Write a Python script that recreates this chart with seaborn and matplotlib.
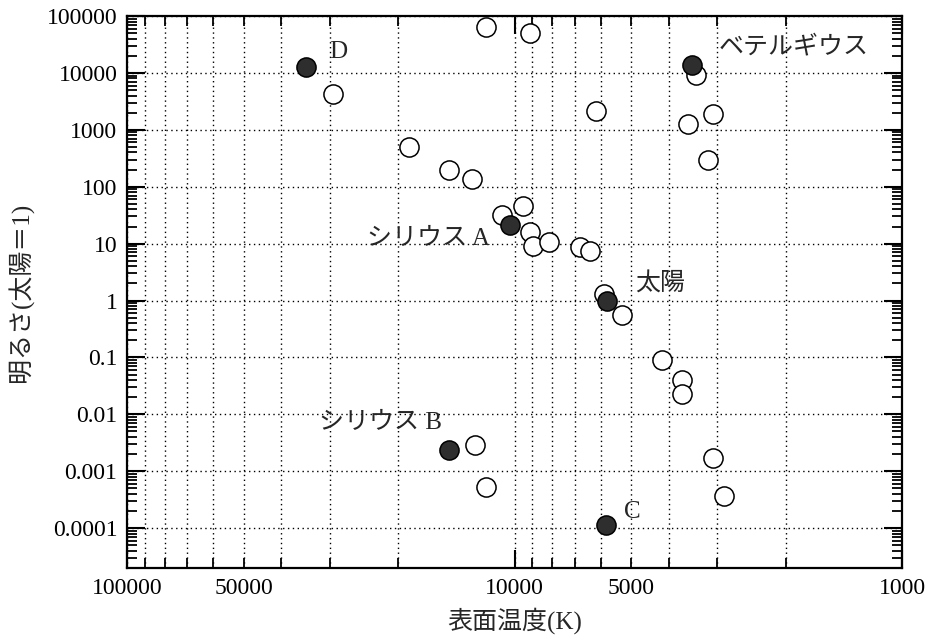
import matplotlib
matplotlib.use("Agg")
import matplotlib.pyplot as plt
from matplotlib.ticker import LogLocator, FixedLocator, FuncFormatter, NullFormatter
import seaborn as sns
import pandas as pd
import numpy as np

# open circles: surface temperature (K) and luminosity (Sun = 1)
open_temp = [11850, 29400, 18700, 14760, 12880, 9120, 3400, 6170, 3570, 3080,
             3170, 9510, 10770, 9120, 8960, 8150, 6780, 6380, 5880, 5280,
             4160, 3700, 3700, 12650, 11850, 3080, 2880]
open_lum = [64300, 4320, 492, 195, 136, 50400, 9300, 2180, 1290, 1860,
            292, 45.8, 31.9, 16.1, 9.17, 10.7, 8.8, 7.5, 1.32, 0.547,
            0.0893, 0.0399, 0.0228, 0.00292, 0.000538, 0.00173, 0.000374]

# filled (named) stars
named_label = ['D', 'シリウス A', '太陽', 'ベテルギウス', 'シリウス B', 'C']
named_temp = [34500, 10270, 5770, 3480, 14760, 5810]
named_lum = [12800, 21.3, 1.0, 13900, 0.00239, 0.000112]

x_major = [100000, 10000, 1000]
x_minor = [m * d for d in (1000, 10000) for m in range(2, 10)]
x_labelled_minor = [50000, 5000]
y_major = [1e-4, 1e-3, 1e-2, 1e-1, 1, 10, 100, 1000, 10000, 100000]


def fmt_num(v, pos=None):
    return '{:f}'.format(v).rstrip('0').rstrip('.')


def main():
    df_open = pd.DataFrame({'temp': open_temp, 'lum': open_lum})
    df_named = pd.DataFrame({'temp': named_temp, 'lum': named_lum, 'label': named_label})

    sns.set_theme(style="ticks")
    plt.rcParams['font.family'] = ['Liberation Serif', 'Noto Sans CJK JP']

    fig = plt.figure(figsize=(9.34, 6.41), dpi=100)
    ax = fig.add_axes([0.136, 0.114, 0.830, 0.861])

    sns.scatterplot(data=df_open, x='temp', y='lum', ax=ax, s=190,
                    facecolor='white', edgecolor='black', linewidth=1.1, zorder=3)
    sns.scatterplot(data=df_named, x='temp', y='lum', ax=ax, s=190,
                    facecolor='#2e2e2e', edgecolor='black', linewidth=1.1, zorder=4)

    ax.set_xscale('log')
    ax.set_yscale('log')
    ax.set_xlim(100000, 1000)
    ax.set_ylim(2e-5, 1e5)

    # x ticks
    ax.xaxis.set_major_locator(FixedLocator(x_major))
    ax.xaxis.set_minor_locator(FixedLocator(x_minor))
    ax.xaxis.set_major_formatter(FuncFormatter(fmt_num))
    ax.xaxis.set_minor_formatter(FuncFormatter(
        lambda v, p: fmt_num(v) if any(abs(v - m) < 1 for m in x_labelled_minor) else ''))

    # y ticks
    ax.yaxis.set_major_locator(FixedLocator(y_major))
    ax.yaxis.set_minor_locator(LogLocator(base=10, subs=np.arange(2, 10), numticks=20))
    ax.yaxis.set_major_formatter(FuncFormatter(fmt_num))
    ax.yaxis.set_minor_formatter(NullFormatter())

    ax.tick_params(which='both', direction='in', top=True, right=True, colors='black',
                   labelsize=17, pad=7)
    ax.tick_params(which='major', length=13, width=1.5)
    ax.tick_params(which='minor', length=7, width=1.3)

    # dotted grid
    ax.grid(which='major', axis='both', color='black', linestyle=(0, (1, 2.5)), linewidth=1.0)
    ax.grid(which='minor', axis='x', color='black', linestyle=(0, (1, 2.5)), linewidth=1.0)
    ax.set_axisbelow(True)

    for sp in ax.spines.values():
        sp.set_color('black')
        sp.set_linewidth(1.6)

    ax.set_xlabel('表面温度(K)', fontsize=18)
    ax.set_ylabel('明るさ(太陽＝1)', fontsize=18)
    ax.xaxis.set_label_coords(0.5, -0.072)
    ax.yaxis.set_label_coords(-0.12, 0.5)

    # star names
    offsets = {'D': (32, 15, 'center'), 'シリウス A': (-20, -14, 'right'),
               '太陽': (28, 16, 'left'), 'ベテルギウス': (26, 18, 'left'),
               'シリウス B': (-7, 27, 'right'), 'C': (26, 13, 'center')}
    for _, row in df_named.iterrows():
        dx, dy, ha = offsets[row['label']]
        ax.annotate(row['label'], (row['temp'], row['lum']), xytext=(dx, dy),
                    textcoords='offset pixels', ha=ha, va='center', fontsize=18)

    fig.savefig('out.png', dpi=100)
    plt.close(fig)


if __name__ == "__main__":
    main()
